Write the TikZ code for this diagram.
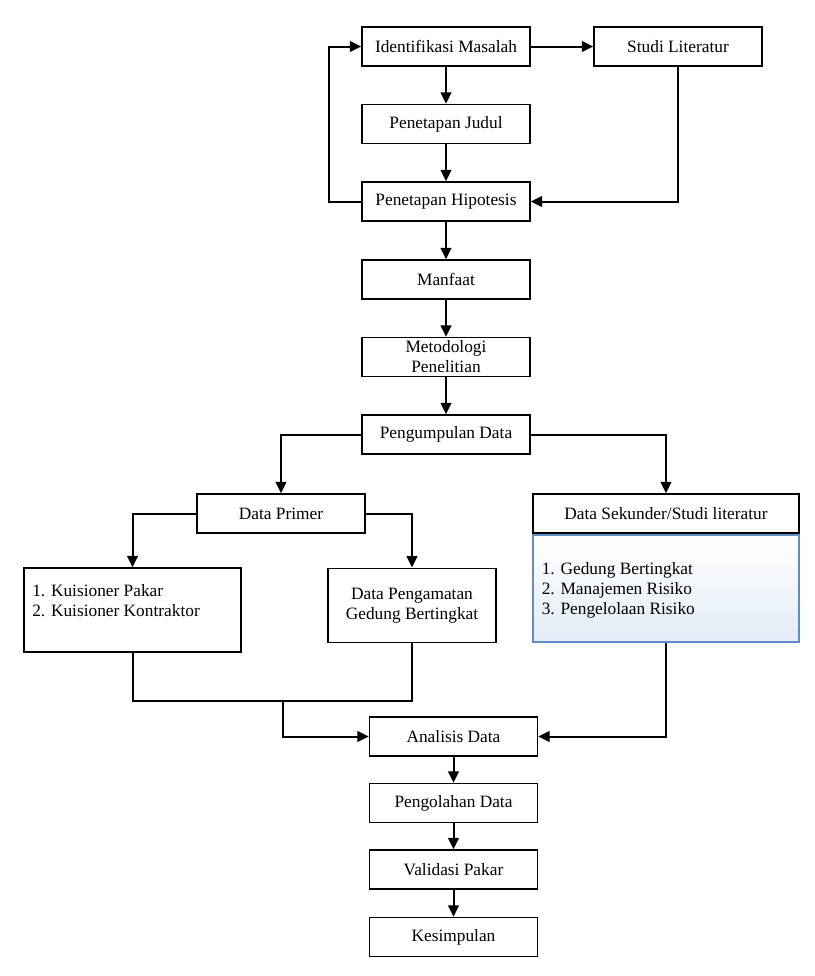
\documentclass[tikz,border=0pt]{standalone}
\usepackage{fontspec}
\setmainfont{Liberation Serif}
\usetikzlibrary{arrows.meta,calc}
\newcommand\fsz{\fontsize{13pt}{15pt}\selectfont}
\definecolor{bluefill}{RGB}{226,235,247}
\definecolor{blueline}{RGB}{98,141,196}
\tikzset{
  box/.style={draw, line width=1.1pt, minimum width=126pt, minimum height=29.25pt, inner sep=0pt, align=center, font=\fsz},
  arr/.style={line width=1.5pt, -{Triangle[length=8.5pt,width=8pt]}},
  ln/.style={line width=1.5pt},
  txt/.style={inner sep=0pt, align=left, font=\fsz, anchor=west}
}
\begin{document}
\begin{tikzpicture}[x=0.75pt,y=-0.75pt]
\useasboundingbox (0,0) rectangle (815,976);
% nodes
\node[box] (im) at (446,46.5) {Identifikasi Masalah};
\node[box] (sl) at (678,46.5) {Studi Literatur};
\node[box] (pj) at (446,124) {Penetapan Judul};
\node[box] (ph) at (446,201.5) {Penetapan Hipotesis};
\node[box] (mf) at (446,279.5) {Manfaat};
\node[box] (mp) at (446,357) {Metodologi\\Penelitian};
\node[box] (pd) at (446,434.5) {Pengumpulan Data};
\node[box] (dp) at (281,513.5) {Data Primer};
\node[box, minimum width=199.5pt] (ds) at (666,513.5) {Data Sekunder/Studi literatur};
\node[box, minimum width=162.75pt, minimum height=63pt] (kui) at (132.5,610) {};
\node[txt] (kuit) at (32,601) {1. Kuisioner Pakar\\2. Kuisioner Kontraktor};
\node[box, minimum height=55.5pt] (dpg) at (412,605.3) {Data Pengamatan\\Gedung Bertingkat};
\node[box, draw=blueline, line width=0.9pt, minimum width=199.5pt, minimum height=80.25pt,
      top color=white, bottom color=bluefill, middle color=bluefill!45] (bl) at (666,588.5) {};
\node[txt] (blt) at (541.5,590.5) {1. Gedung Bertingkat\\2. Manajemen Risiko\\3. Pengelolaan Risiko};
\node[box] (ad) at (453.5,736.5) {Analisis Data};
\node[box] (pl) at (453.5,803) {Pengolahan Data};
\node[box] (vp) at (453.5,869.5) {Validasi Pakar};
\node[box] (ks) at (453.5,937) {Kesimpulan};
\coordinate (lp) at (329,0);
\coordinate (mj) at (283,701);
% connectors
\draw[arr] (im.east) -- (sl.west);
\draw[arr] (im) -- (pj);
\draw[arr] (pj) -- (ph);
\draw[arr] (ph.west) -- (ph.west -| lp) |- (im.west);
\draw[arr] (sl.south) |- (ph.east);
\draw[arr] (ph) -- (mf);
\draw[arr] (mf) -- (mp);
\draw[arr] (mp) -- (pd);
\draw[arr] (pd.west) -| (dp.north);
\draw[arr] (pd.east) -| (ds.north);
\draw[arr] (dp.west) -| (kui.north);
\draw[arr] (dp.east) -| (dpg.north);
\draw[ln] (kui.south) |- (dpg.south |- mj) -- (dpg.south);
\draw[arr] (mj) |- (ad.west);
\draw[arr] (bl.south) |- (ad.east);
\draw[arr] (ad) -- (pl);
\draw[arr] (pl) -- (vp);
\draw[arr] (vp) -- (ks);
\end{tikzpicture}
\end{document}
